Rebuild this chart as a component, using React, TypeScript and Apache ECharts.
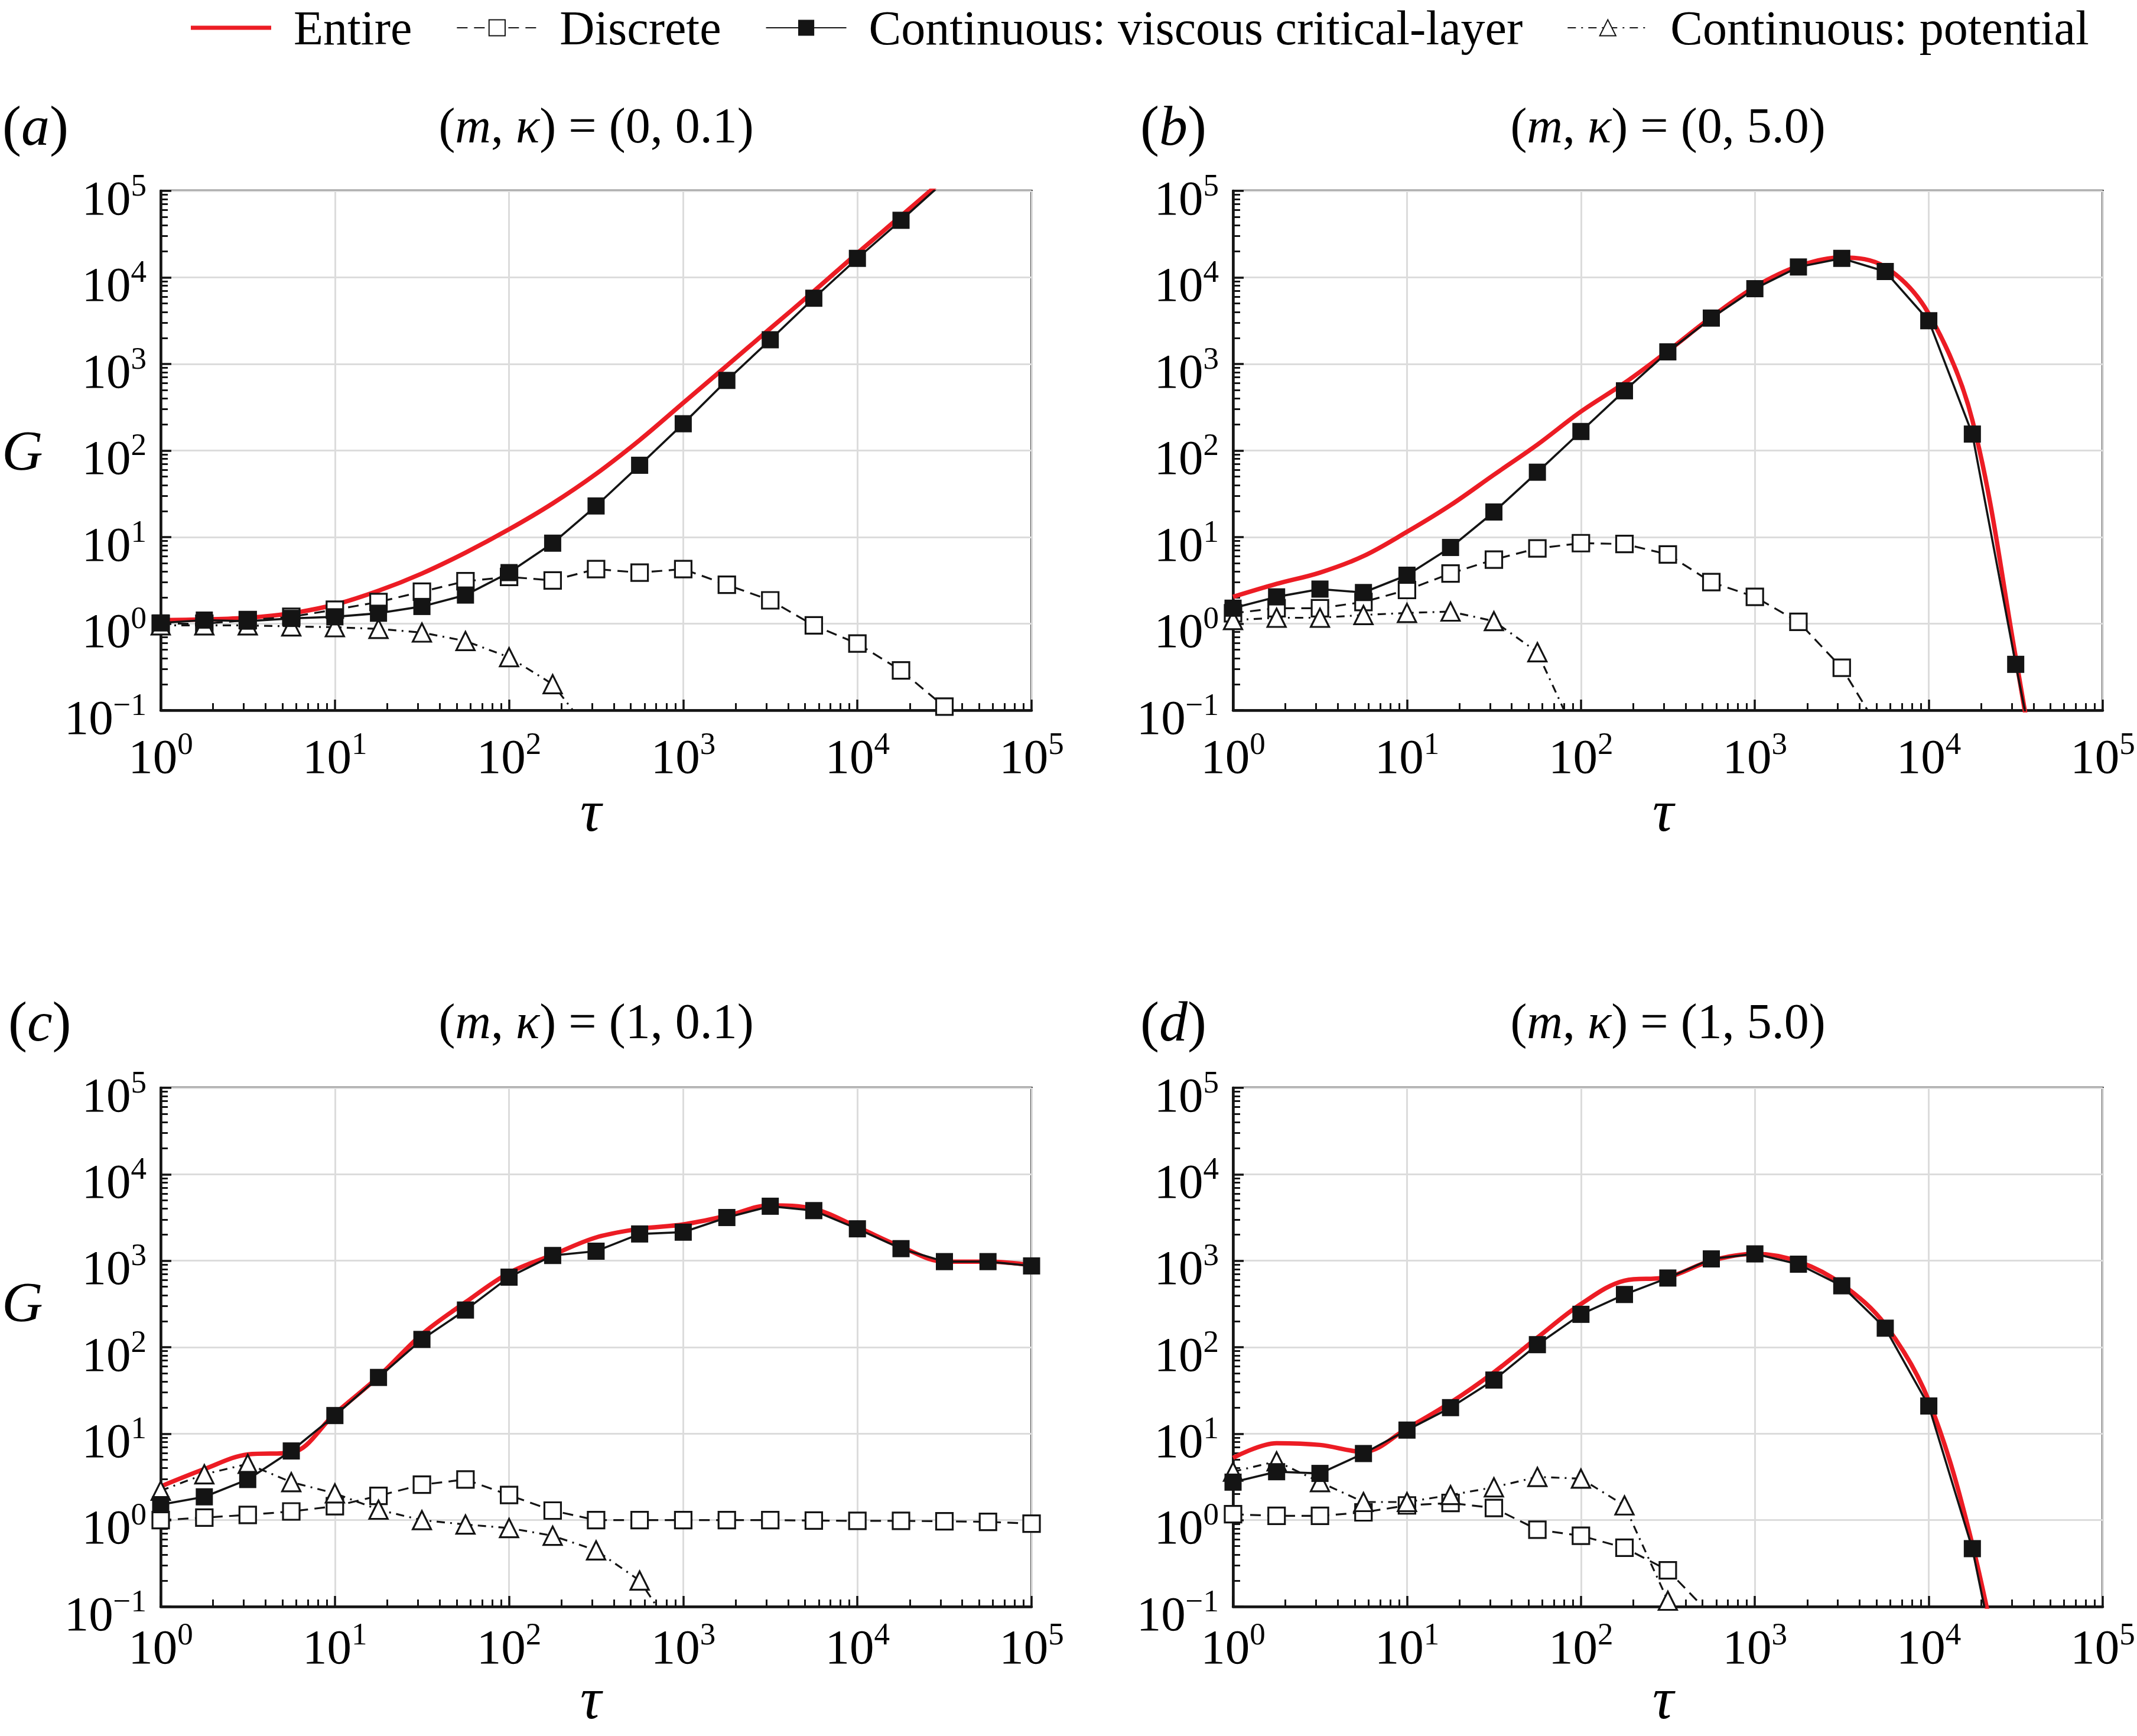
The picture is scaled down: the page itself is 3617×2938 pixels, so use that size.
import React, { useEffect, useRef } from 'react';
import * as echarts from 'echarts';

const FONT = "'Liberation Serif', 'Times New Roman', Times, serif";
const W = 3617;
const H = 2938;
const RED = '#ec1c24';
const INK = '#141414';

const NAMES = ['Entire', 'Discrete', 'Continuous: viscous critical-layer', 'Continuous: potential'];

// sample times (quarter decades)
const TAU = [1, 1.78, 3.16, 5.62, 10, 17.8, 31.6, 56.2, 100, 178, 316, 562, 1000, 1780, 3160, 5620, 10000, 17800, 31600, 56200, 100000];

// axis ranges (tick labels 10^0..10^5 and 10^-1..10^5)
const X_MIN = 1;
const X_MAX = 100000;
const Y_MIN = 0.1;
const Y_MAX = 100000;

// panel headings
const PANEL_LETTERS = ['a', 'b', 'c', 'd'];
const PANEL_M = ['0', '0', '1', '1'];
const PANEL_KAPPA = ['0.1', '5.0', '0.1', '5.0'];

// ---- (a) (m, kappa) = (0, 0.1)
const A_ENTIRE = [1.10, 1.12, 1.17, 1.32, 1.66, 2.40, 3.80, 6.61, 12.3, 24.5, 53.7, 132, 355, 955, 2570, 6920, 19100, 51300, 138000];
const A_DISCRETE = [1.0, 1.0, 1.10, 1.20, 1.45, 1.78, 2.34, 3.09, 3.47, 3.16, 4.27, 3.89, 4.27, 2.82, 1.86, 0.955, 0.589, 0.288, 0.110, 0.040];
const A_VISCOUS = [1.02, 1.10, 1.07, 1.15, 1.20, 1.32, 1.58, 2.14, 3.89, 8.51, 22.9, 67.6, 204, 646, 1905, 5750, 16600, 45700, 128800];
const A_POTENTIAL = [0.955, 0.955, 0.955, 0.93, 0.91, 0.87, 0.79, 0.63, 0.41, 0.20, 0.045];

// ---- (b) (m, kappa) = (0, 5.0)
const B_ENTIRE = [2.04, 2.88, 3.89, 6.03, 11.5, 23.4, 52.5, 117, 282, 603, 1410, 3470, 7760, 13500, 17000, 13200, 3800, 224, 0.41, 0.0004];
const B_DISCRETE = [1.32, 1.51, 1.51, 1.78, 2.45, 3.80, 5.50, 7.41, 8.51, 8.32, 6.31, 3.02, 2.04, 1.05, 0.309, 0.046];
const B_VISCOUS = [1.51, 2.04, 2.51, 2.29, 3.63, 7.59, 19.5, 56.2, 166, 490, 1380, 3390, 7410, 13200, 16600, 11700, 3160, 155, 0.339, 0.001];
const B_POTENTIAL = [1.10, 1.17, 1.17, 1.26, 1.33, 1.38, 1.07, 0.468, 0.038];

// ---- (c) (m, kappa) = (1, 0.1)
const C_ENTIRE = [2.45, 3.89, 5.75, 6.03, 17.0, 45.7, 141, 331, 724, 1170, 1860, 2340, 2630, 3310, 4370, 3980, 2450, 1450, 977, 977, 891];
const C_DISCRETE = [1.0, 1.07, 1.15, 1.26, 1.45, 1.91, 2.57, 2.95, 1.95, 1.29, 1.0, 1.0, 1.0, 1.0, 1.0, 0.99, 0.98, 0.98, 0.97, 0.955, 0.91];
const C_VISCOUS = [1.51, 1.86, 2.95, 6.31, 16.2, 44.7, 123, 269, 646, 1150, 1290, 2040, 2140, 3160, 4270, 3800, 2340, 1380, 977, 977, 871];
const C_POTENTIAL = [2.19, 3.39, 4.47, 2.75, 2.04, 1.32, 1.0, 0.89, 0.81, 0.66, 0.447, 0.20, 0.035];

// ---- (d) (m, kappa) = (1, 5.0)
const D_ENTIRE = [5.25, 7.76, 7.41, 6.17, 11.5, 22.9, 51.3, 129, 316, 589, 646, 1000, 1200, 977, 537, 182, 24.0, 0.525, 0.0021];
const D_DISCRETE = [1.17, 1.12, 1.12, 1.23, 1.48, 1.58, 1.38, 0.776, 0.66, 0.479, 0.263, 0.079];
const D_VISCOUS = [2.75, 3.63, 3.47, 5.89, 11.0, 20.0, 41.7, 107, 240, 407, 631, 1050, 1200, 912, 513, 166, 20.9, 0.468, 0.0017];
const D_POTENTIAL = [3.63, 4.79, 2.75, 1.62, 1.62, 1.95, 2.40, 3.16, 3.02, 1.48, 0.117];

const PANEL_DATA = [
  [A_ENTIRE, A_DISCRETE, A_VISCOUS, A_POTENTIAL],
  [B_ENTIRE, B_DISCRETE, B_VISCOUS, B_POTENTIAL],
  [C_ENTIRE, C_DISCRETE, C_VISCOUS, C_POTENTIAL],
  [D_ENTIRE, D_DISCRETE, D_VISCOUS, D_POTENTIAL],
];

// layout (pixels)
const LAYOUT = [
  { left: 272, top: 323, width: 1474, height: 879, letterX: 4, titleX: 1009, headY: 212, gY: 762, tauX: 1000, tauY: 1372, xMargin: 29, showG: true },
  { left: 2087, top: 323, width: 1472, height: 879, letterX: 1930, titleX: 2823, headY: 212, gY: 0, tauX: 2815, tauY: 1372, xMargin: 29, showG: false },
  { left: 272, top: 1841, width: 1474, height: 878, letterX: 14, titleX: 1009, headY: 1728, gY: 2203, tauX: 1000, tauY: 2874, xMargin: 19, showG: true },
  { left: 2087, top: 1841, width: 1472, height: 878, letterX: 1930, titleX: 2823, headY: 1728, gY: 0, tauX: 2815, tauY: 2874, xMargin: 19, showG: false },
];

// minor tick positions (log10 of 2..9 per decade), for overlay value axes
const MINOR_X: number[] = [];
for (let n = 0; n < 5; n++) for (let k = 2; k <= 9; k++) MINOR_X.push(n + Math.log10(k));
const MINOR_Y: number[] = [];
for (let n = -1; n < 5; n++) for (let k = 2; k <= 9; k++) MINOR_Y.push(n + Math.log10(k));

function powLabel(v: number) {
  const n = Math.round(Math.log10(v));
  const e = n < 0 ? '\u2212' + String(-n) : String(n);
  return '{b|10}{s|' + e + '}';
}

const TICK_RICH = {
  b: { fontSize: 83, fontFamily: FONT, color: '#000', verticalAlign: 'bottom' },
  s: { fontSize: 53, fontFamily: FONT, color: '#000', verticalAlign: 'bottom', padding: [0, 0, 37, 0] },
};

const pairs = (vals: number[]) => vals.map((g, i) => [TAU[i], g]);

function textEl(x: number, y: number, text: string, size: number, align: string, italic: boolean) {
  return {
    type: 'text',
    x,
    y,
    silent: true,
    style: {
      text,
      fontSize: size,
      fontFamily: FONT,
      fontStyle: italic ? 'italic' : 'normal',
      fill: '#000',
      align,
      textAlign: align,
      verticalAlign: 'middle',
      textVerticalAlign: 'middle',
      rich: {
        i: { fontSize: size, fontFamily: FONT, fontStyle: 'italic', fill: '#000' },
      },
    },
  };
}

function buildOption() {
  const grid: any[] = [];
  const xAxis: any[] = [];
  const yAxis: any[] = [];
  const series: any[] = [];
  const graphics: any[] = [];

  LAYOUT.forEach((L, i) => {
    grid.push({
      left: L.left, top: L.top, width: L.width, height: L.height,
      show: true, borderColor: INK, borderWidth: 3.5, backgroundColor: 'transparent',
    });
    // main log x-axis
    xAxis.push({
      type: 'log', logBase: 10, gridIndex: i, min: X_MIN, max: X_MAX, position: 'bottom',
      axisLine: { show: true, onZero: false, lineStyle: { color: INK, width: 4.5 } },
      axisTick: { show: true, inside: true, length: 18, lineStyle: { color: INK, width: 3.5 } },
      axisLabel: { show: true, margin: L.xMargin, formatter: powLabel, rich: TICK_RICH, showMinLabel: true, showMaxLabel: true },
      splitLine: { show: true, lineStyle: { color: '#dcdcdc', width: 3 } },
    });
    // overlay for minor ticks
    xAxis.push({
      type: 'value', gridIndex: i, min: 0, max: 5, position: 'bottom',
      axisLine: { show: false, onZero: false },
      axisTick: { show: true, inside: true, length: 12, lineStyle: { color: INK, width: 3 }, customValues: MINOR_X },
      axisLabel: { show: false },
      splitLine: { show: false },
    });
    yAxis.push({
      type: 'log', logBase: 10, gridIndex: i, min: Y_MIN, max: Y_MAX, position: 'left',
      axisLine: { show: true, onZero: false, lineStyle: { color: INK, width: 4.5 } },
      axisTick: { show: true, inside: true, length: 18, lineStyle: { color: INK, width: 3.5 } },
      axisLabel: { show: true, margin: 24, formatter: powLabel, rich: TICK_RICH, padding: [16, 0, 0, 0], showMinLabel: true, showMaxLabel: true },
      splitLine: { show: true, lineStyle: { color: '#dcdcdc', width: 3 } },
    });
    yAxis.push({
      type: 'value', gridIndex: i, min: -1, max: 5, position: 'left',
      axisLine: { show: false, onZero: false },
      axisTick: { show: true, inside: true, length: 12, lineStyle: { color: INK, width: 3 }, customValues: MINOR_Y },
      axisLabel: { show: false },
      splitLine: { show: false },
    });

    const [entire, discrete, viscous, potential] = PANEL_DATA[i];
    const axes = { xAxisIndex: 2 * i, yAxisIndex: 2 * i };
    series.push({
      type: 'line', name: NAMES[0], ...axes, data: pairs(entire), smooth: 0.35,
      symbol: 'none', showSymbol: false, clip: true,
      lineStyle: { color: RED, width: 7.5 }, itemStyle: { color: RED },
      z: 2,
    });
    series.push({
      type: 'line', name: NAMES[1], ...axes, data: pairs(discrete), clip: true,
      symbol: 'rect', symbolSize: 28,
      lineStyle: { color: INK, width: 3.2, type: [18, 11] },
      itemStyle: { color: '#fff', borderColor: INK, borderWidth: 3.2 },
      z: 3,
    });
    series.push({
      type: 'line', name: NAMES[2], ...axes, data: pairs(viscous), clip: true,
      symbol: 'rect', symbolSize: 29,
      lineStyle: { color: INK, width: 3.6 },
      itemStyle: { color: INK },
      z: 4,
    });
    series.push({
      type: 'line', name: NAMES[3], ...axes, data: pairs(potential), clip: true,
      symbol: 'triangle', symbolSize: 31,
      lineStyle: { color: INK, width: 3.2, type: [14, 9, 3, 9] },
      itemStyle: { color: '#fff', borderColor: INK, borderWidth: 3.2 },
      z: 3,
    });

    graphics.push(textEl(L.letterX, L.headY, '({i|' + PANEL_LETTERS[i] + '})', 96, 'left', false));
    graphics.push(textEl(L.titleX, L.headY, '({i|m}, {i|\u03ba}) = (' + PANEL_M[i] + ', ' + PANEL_KAPPA[i] + ')', 84, 'center', false));
    if (L.showG) graphics.push(textEl(38, L.gY, 'G', 96, 'center', true));
    graphics.push(textEl(L.tauX, L.tauY, '\u03c4', 100, 'center', true));
  });

  return {
    animation: false,
    backgroundColor: '#fff',
    textStyle: { fontFamily: FONT, color: '#000' },
    legend: {
      left: 323, top: 6, padding: 0,
      itemWidth: 136, itemHeight: 34, itemGap: 75,
      selectedMode: false,
      textStyle: { fontSize: 82, lineHeight: 80, fontFamily: FONT, color: '#000', padding: [0, 0, 0, 33] },
      data: [
        { name: NAMES[0], icon: 'path://M0,0H136V7H0Z' },
        NAMES[1], NAMES[2], NAMES[3],
      ],
    },
    grid, xAxis, yAxis, series,
    graphic: { elements: graphics },
  };
}

export default function App() {
  const ref = useRef<HTMLDivElement>(null);
  useEffect(() => {
    document.body.style.margin = '0';
    const chart = echarts.init(ref.current as HTMLDivElement, null, { renderer: 'svg', width: W, height: H });
    chart.setOption(buildOption() as any);
    return () => chart.dispose();
  }, []);
  return <div ref={ref} style={{ position: 'absolute', left: 0, top: 0, width: W, height: H, background: '#fff' }} />;
}
